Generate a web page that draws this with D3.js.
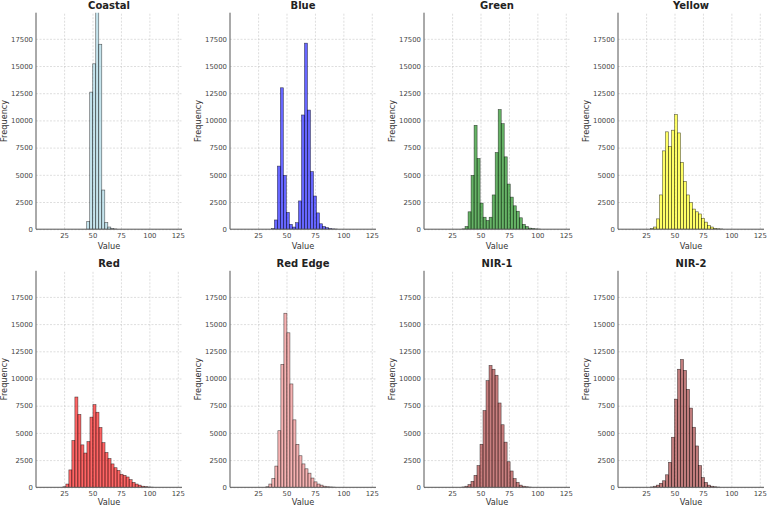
<!DOCTYPE html>
<html>
<head>
<meta charset="utf-8">
<script src="https://cdn.jsdelivr.net/npm/d3@7"></script>
<style>
  html, body { margin: 0; padding: 0; background: #fff; }
  text { font-family: "DejaVu Sans", sans-serif; }
</style>
</head>
<body>
<svg id="chart" width="768" height="507"></svg>
<script>
// ---- data ----
const bands = ["Coastal", "Blue", "Green", "Yellow", "Red", "Red Edge", "NIR-1", "NIR-2"];
const binWidth = 2.65;
const binStarts = [44.9, 36.65, 33.75, 28.8, 23.9, 31.8, 33.65, 28.8];
const coastalCounts = [700, 12600, 15200, 20500, 17000, 3600, 600, 200, 60, 20];
const blueCounts = [50, 850, 5800, 13000, 4950, 1550, 450, 200, 600, 2600, 10500, 17100, 10950, 5300, 3050, 1500, 500, 250, 150, 60, 30, 15];
const greenCounts = [30, 250, 1600, 4950, 9550, 6500, 2400, 1100, 800, 1100, 3150, 7050, 11000, 9700, 6650, 4150, 2950, 2150, 1650, 1050, 450, 250, 100, 60, 30, 15];
const yellowCounts = [50, 200, 950, 3150, 7200, 8950, 7600, 9100, 10550, 8850, 6150, 4400, 3150, 2450, 1850, 1600, 1400, 1000, 650, 350, 200, 80, 40, 20];
const redCounts = [50, 300, 1600, 4300, 8300, 6700, 3900, 3150, 4200, 6450, 7600, 6900, 5500, 4100, 3200, 2650, 2150, 1800, 1550, 1200, 1100, 950, 700, 450, 300, 200, 100, 60, 30, 15];
const redEdgeCounts = [50, 300, 800, 1950, 5200, 11300, 16000, 14200, 9500, 6200, 3950, 2900, 2150, 1700, 1300, 850, 500, 300, 200, 100, 50, 30, 15];
const nir1Counts = [30, 100, 250, 550, 1100, 2000, 3950, 7050, 9800, 11200, 10850, 10300, 7750, 5750, 4150, 2350, 1500, 800, 450, 200, 100, 50, 20];
const nir2Counts = [30, 100, 200, 370, 600, 1150, 2300, 4600, 8100, 10850, 11750, 10750, 9000, 7280, 5520, 3800, 2000, 900, 450, 200, 100, 50, 20];
const allCounts = [coastalCounts, blueCounts, greenCounts, yellowCounts, redCounts, redEdgeCounts, nir1Counts, nir2Counts];
const barColors = ["#add8e6", "#0000ff", "#008000", "#ffff00", "#ff0000", "#f08080", "#a52a2a", "#962525"];
const barAlpha = [0.7, 0.6, 0.6, 0.6, 0.6, 0.6, 0.6, 0.6];
const xTicks = [25, 50, 75, 100, 125];
const yTicks = [0, 2500, 5000, 7500, 10000, 12500, 15000, 17500];
const xDomain = [0.3, 128.7];
const yDomain = [0, 19900];

// ---- layout ----
const svg = d3.select("#chart");
const panelW = 146, panelH = 216.5;
const colLeft = c => 36 + c * 194.0;
const rowTop = [12.7, 270.8];
const valueLabelOffset = [19.5, 18.0];

const x = d3.scaleLinear().domain(xDomain).range([0, panelW]);
const y = d3.scaleLinear().domain(yDomain).range([panelH, 0]);

bands.forEach((name, i) => {
  const col = i % 4, row = Math.floor(i / 4);
  const g = svg.append("g").attr("transform", `translate(${colLeft(col)},${rowTop[row]})`);

  g.append("clipPath").attr("id", "clip" + i)
    .append("rect").attr("x", 0).attr("y", 0).attr("width", panelW).attr("height", panelH);

  // grid
  const gx = g.append("g").attr("transform", `translate(0,${panelH})`)
    .call(d3.axisBottom(x).tickValues(xTicks).tickSize(-panelH).tickFormat(""));
  const gy = g.append("g")
    .call(d3.axisLeft(y).tickValues(yTicks).tickSize(-panelW).tickFormat(""));
  [gx, gy].forEach(a => {
    a.select(".domain").remove();
    a.selectAll("line").attr("stroke", "#c8c8c8").attr("stroke-width", 0.6).attr("stroke-dasharray", "2,1.5");
  });

  // bars
  const data = allCounts[i].map((c, j) => ({ x0: binStarts[i] + j * binWidth, x1: binStarts[i] + (j + 1) * binWidth, c }));
  g.append("g").attr("clip-path", `url(#clip${i})`)
    .selectAll("rect").data(data).join("rect")
    .attr("x", d => x(d.x0))
    .attr("width", d => x(d.x1) - x(d.x0))
    .attr("y", d => y(d.c))
    .attr("height", d => y(0) - y(d.c))
    .attr("fill", barColors[i])
    .attr("fill-opacity", barAlpha[i])
    .attr("stroke", "#000")
    .attr("stroke-opacity", 0.65)
    .attr("stroke-width", 0.6);

  // axes tick labels
  const ax = g.append("g").attr("transform", `translate(0,${panelH})`)
    .call(d3.axisBottom(x).tickValues(xTicks).tickSize(0).tickPadding(3.5));
  const ay = g.append("g")
    .call(d3.axisLeft(y).tickValues(yTicks).tickSize(0).tickPadding(3).tickFormat(d3.format("d")));
  [ax, ay].forEach(a => {
    a.select(".domain").remove();
    a.selectAll("text").attr("font-size", "6.9px").attr("fill", "#444").style("font-family", "DejaVu Sans");
  });

  // spines
  g.append("line").attr("x1", 0).attr("x2", 0).attr("y1", 0).attr("y2", panelH)
    .attr("stroke", "#555").attr("stroke-width", 1);
  g.append("line").attr("x1", 0).attr("x2", panelW).attr("y1", panelH).attr("y2", panelH)
    .attr("stroke", "#555").attr("stroke-width", 1);

  // labels
  g.append("text").attr("x", panelW / 2).attr("y", panelH + valueLabelOffset[row])
    .attr("text-anchor", "middle").attr("font-size", "8.2px").attr("fill", "#333").text("Value");
  g.append("text").attr("transform", `translate(-32,${panelH / 2}) rotate(-90)`)
    .attr("text-anchor", "middle").attr("dy", "0.35em")
    .attr("font-size", "8.2px").attr("fill", "#333").text("Frequency");
  g.append("text").attr("x", panelW / 2).attr("y", -4.0)
    .attr("text-anchor", "middle").attr("font-size", "10px").attr("font-weight", "bold")
    .attr("fill", "#222").text(name);
});
</script>
</body>
</html>
